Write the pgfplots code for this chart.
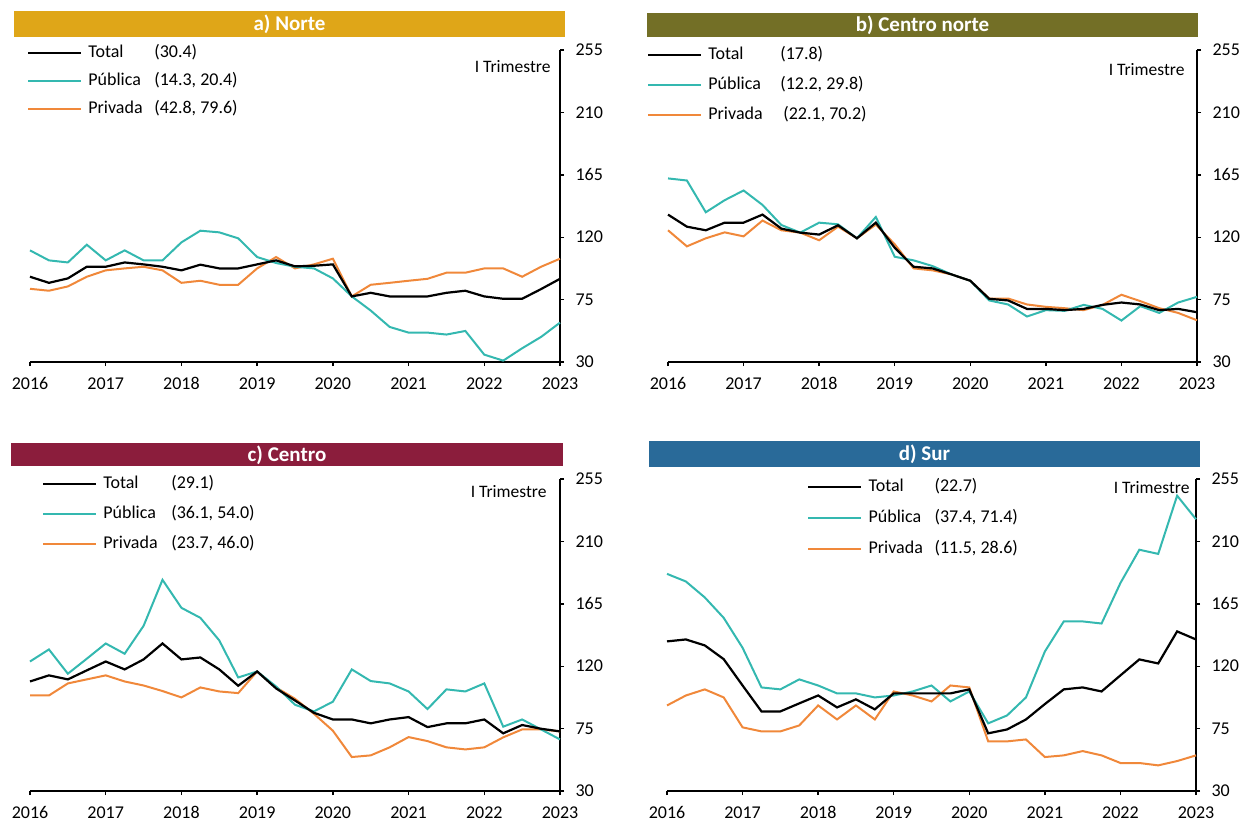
\documentclass[border=0pt]{standalone}
\usepackage{pgfplots}
\pgfplotsset{compat=1.18}
\usepackage{pgfplotstable}
\usepackage{fontspec}
\setmainfont{Carlito}
\definecolor{cteal}{RGB}{52,184,176}
\definecolor{corange}{RGB}{240,136,58}
\definecolor{cgold}{RGB}{223,166,24}
\definecolor{colive}{RGB}{115,111,38}
\definecolor{cmaroon}{RGB}{139,29,60}
\definecolor{cblue}{RGB}{41,106,153}

\pgfplotstableread{
i tot pub pri
0 91.5 110.5 82.8
1 87.1 103.3 81.4
2 90.3 101.8 84.5
3 98.7 114.6 91.5
4 98.7 103.3 96.1
5 101.8 110.5 97.5
6 100.4 103.3 98.7
7 98.7 103.3 96.1
8 96.1 116.3 87.1
9 100.2 124.7 88.6
10 97.5 123.5 85.7
11 97.5 119.2 85.7
12 100.4 105.7 97.5
13 103.3 101.4 105.7
14 99 98.7 97.5
15 99.4 97.5 100.4
16 100.4 90.3 104.5
17 77.3 77.3 77.3
18 79.9 67.1 85.7
19 77.3 55.3 87.1
20 77.3 51.2 88.6
21 77.3 51.2 90
22 79.9 49.8 94.4
23 81.4 52.4 94.4
24 77.3 35.3 97.5
25 75.6 31 97.5
26 75.6 39.9 91.5
27 82.6 48.1 98.7
28 90 58.4 104.5
}\norte

\pgfplotstableread{
i tot pub pri
0 136.3 162.4 125
1 127.6 160.9 113.4
2 125 138 119.2
3 130.5 146.7 123.5
4 130.5 153.7 120.6
5 136.3 143.3 132
6 126.2 128.8 125
7 123.3 123.3 123.3
8 121.9 130.5 117.8
9 128.6 129.3 127.6
10 119.2 119.2 119.2
11 130.5 134.6 129.1
12 112.4 105.9 114.9
13 98.7 103.3 97.5
14 97.5 99.2 96.1
15 93.2 93.2 93.2
16 88.6 88.6 88.6
17 75.6 74.4 75.8
18 74.4 71.5 75.8
19 68.3 62.8 71.5
20 68.3 67.4 69.8
21 67.4 66.9 68.8
22 68.3 71.2 67.4
23 71.2 68.3 71.2
24 72.9 59.9 78.5
25 71.5 70.3 73.9
26 67.4 65.4 68.8
27 68.3 72.9 65.4
28 65.9 77 60.1
}\centronorte

\pgfplotstableread{
i tot pub pri
0 109 123.4 98.9
1 113.4 132.1 98.9
2 110.5 114.6 107.6
3 117 125.4 110.5
4 123.4 136.4 113.4
5 117.7 129 109
6 124.9 149.1 106.1
7 136.4 182.3 102.1
8 124.9 162.1 97.5
9 126.3 154.9 104.7
10 117.7 138.6 101.8
11 105.9 111.9 100.6
12 116.2 116.2 116.2
13 104 105.4 104.7
14 95.3 92.2 96.5
15 86.4 87.4 85.7
16 81.6 94.4 73.5
17 81.6 117.7 54.5
18 78.8 109.3 55.7
19 81.6 107.6 61.5
20 83.3 101.8 68.9
21 76.1 89.1 66
22 78.8 103.3 61.5
23 78.8 101.8 60
24 81.6 107.6 61.5
25 71.6 76.4 68.7
26 77.6 81.6 74.4
27 74.9 74.4 74.4
28 73 67.2 73
}\centro

\pgfplotstableread{
i tot pub pri
0 137.9 186.6 91.7
1 139.3 181.1 98.9
2 135 169.6 103.3
3 125.1 154.9 97.5
4 106.1 133.3 75.9
5 87.4 104.7 73
6 87.4 103.3 73
7 93.2 110.5 77.3
8 98.9 106.1 91.7
9 90.3 100.4 81.6
10 96.1 100.4 91.7
11 88.9 97.5 81.6
12 100.4 98.9 101.8
13 100.4 101.8 98.9
14 100.4 106.1 94.6
15 100.4 94.6 106.1
16 103.3 101.8 104.7
17 71.6 78.8 65.8
18 74.4 84.5 65.8
19 81.6 97.5 67.2
20 92.7 130.6 54.5
21 103.3 152.3 55.7
22 104.7 152.3 58.8
23 101.8 150.8 55.7
24 113.4 180 50.2
25 124.9 204 50.2
26 122 201 48.5
27 145.1 243 51.6
28 139.3 226 55.7
}\sur

\pgfplotsset{
  panel/.style={
    scale only axis, height=312pt,
    xmin=0, xmax=28, ymin=30, ymax=255,
    xtick={0,4,...,28}, xticklabels={2016,2017,2018,2019,2020,2021,2022,2023},
    ytick={30,75,120,165,210,255},
    axis x line*=bottom, axis y line*=right,
    tick align=outside, major tick length=4pt,
    axis line style={line width=1.4pt, black},
    tick style={line width=1.4pt, black},
    tick label style={font=\fontsize{18}{20}\selectfont},
    /pgf/number format/assume math mode=true,
    xticklabel style={yshift=-8pt},
    yticklabel style={xshift=8pt},
    clip=false,
    reverse legend,
    legend cell align=left,
    legend image code/.code={\draw[##1] (0pt,0pt) -- (53pt,0pt);},
    legend style={anchor=north west, draw=none, fill=none,
      font=\fontsize{18}{20}\selectfont, inner sep=0pt, column sep=6pt,
      nodes={inner sep=0pt, text height=13pt, text depth=4pt}},
  },
  ltot/.style={black, line width=2.2pt},
  lpub/.style={cteal, line width=2pt},
  lpri/.style={corange, line width=2pt},
}

\begin{document}
\begin{tikzpicture}
\useasboundingbox (0,0) rectangle (1241pt,-823pt);

% title bars
\fill[cgold] (14pt,-11pt) rectangle (565pt,-37pt);
\node[text=white, font=\fontsize{21}{23}\selectfont\bfseries] at (289.5pt,-24.5pt) {a) Norte};
\fill[colive] (647pt,-13pt) rectangle (1198pt,-37pt);
\node[text=white, font=\fontsize{21}{23}\selectfont\bfseries] at (922.5pt,-25.5pt) {b) Centro norte};
\fill[cmaroon] (11pt,-443pt) rectangle (563pt,-466pt);
\node[text=white, font=\fontsize{21}{23}\selectfont\bfseries] at (287pt,-455pt) {c) Centro};
\fill[cblue] (649pt,-441pt) rectangle (1200pt,-467pt);
\node[text=white, font=\fontsize{21}{23}\selectfont\bfseries] at (924.5pt,-454.5pt) {d) Sur};

\node[anchor=east, font=\fontsize{17.5}{20}\selectfont] at (554pt,-67pt) {I Trimestre};
\node[anchor=east, font=\fontsize{17.5}{20}\selectfont] at (1188pt,-70pt) {I Trimestre};
\node[anchor=east, font=\fontsize{17.5}{20}\selectfont] at (550pt,-492pt) {I Trimestre};
\node[anchor=east, font=\fontsize{17.5}{20}\selectfont] at (1193pt,-488pt) {I Trimestre};

% a) Norte
\begin{axis}[panel, width=530pt, at={(30pt,-362pt)}, anchor=south west,
  legend style={at={(rel axis cs:-0.0057,1.0176)}, row sep=11pt}]
\addplot[lpri] table[x=i,y=pri] {\norte};
\addlegendentry{\makebox[66pt][l]{Privada}(42.8, 79.6)}
\addplot[lpub] table[x=i,y=pub] {\norte};
\addlegendentry{\makebox[66pt][l]{Pública}(14.3, 20.4)}
\addplot[ltot] table[x=i,y=tot] {\norte};
\addlegendentry{\makebox[66pt][l]{Total}(30.4)}
\end{axis}

% b) Centro norte
\begin{axis}[panel, width=529pt, at={(668pt,-362pt)}, anchor=south west,
  legend style={at={(rel axis cs:-0.0397,1.0112)}, row sep=13pt}]
\addplot[lpri] table[x=i,y=pri] {\centronorte};
\addlegendentry{\makebox[75pt][l]{Privada}(22.1, 70.2)}
\addplot[lpub] table[x=i,y=pub] {\centronorte};
\addlegendentry{\makebox[72pt][l]{Pública}(12.2, 29.8)}
\addplot[ltot] table[x=i,y=tot] {\centronorte};
\addlegendentry{\makebox[72pt][l]{Total}(17.8)}
\end{axis}

% c) Centro
\begin{axis}[panel, width=530pt, at={(30pt,-791pt)}, anchor=south west,
  legend style={at={(rel axis cs:0.0226,1.0112)}, row sep=13pt}]
\addplot[lpri] table[x=i,y=pri] {\centro};
\addlegendentry{\makebox[68pt][l]{Privada}(23.7, 46.0)}
\addplot[lpub] table[x=i,y=pub] {\centro};
\addlegendentry{\makebox[68pt][l]{Pública}(36.1, 54.0)}
\addplot[ltot] table[x=i,y=tot] {\centro};
\addlegendentry{\makebox[68pt][l]{Total}(29.1)}
\end{axis}

% d) Sur
\begin{axis}[panel, width=529pt, at={(667pt,-791pt)}, anchor=south west,
  legend style={at={(rel axis cs:0.265,1.0016)}, row sep=14pt}]
\addplot[lpri] table[x=i,y=pri] {\sur};
\addlegendentry{\makebox[66pt][l]{Privada}(11.5, 28.6)}
\addplot[lpub] table[x=i,y=pub] {\sur};
\addlegendentry{\makebox[66pt][l]{Pública}(37.4, 71.4)}
\addplot[ltot] table[x=i,y=tot] {\sur};
\addlegendentry{\makebox[66pt][l]{Total}(22.7)}
\end{axis}
\end{tikzpicture}
\end{document}
